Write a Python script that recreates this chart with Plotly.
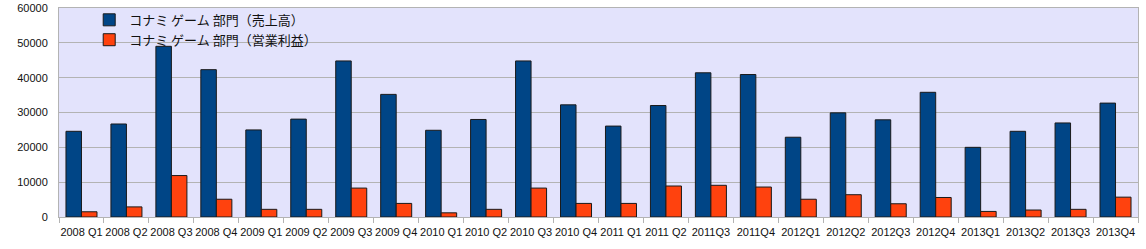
import plotly.graph_objects as go

categories = ["2008 Q1", "2008 Q2", "2008 Q3", "2008 Q4",
              "2009 Q1", "2009 Q2", "2009 Q3", "2009 Q4",
              "2010 Q1", "2010 Q2", "2010 Q3", "2010 Q4",
              "2011 Q1", "2011 Q2", "2011Q3", "2011Q4",
              "2012Q1", "2012Q2", "2012Q3", "2012Q4",
              "2013Q1", "2013Q2", "2013Q3", "2013Q4"]

sales = [24600, 26700, 49000, 42300, 25000, 28100, 44800, 35200,
         24900, 28000, 44800, 32200, 26100, 32000, 41400, 40900,
         22900, 29900, 27900, 35800, 20000, 24600, 27000, 32700]

profit = [1500, 2900, 11900, 5100, 2200, 2200, 8300, 3900,
          1200, 2200, 8300, 3900, 3900, 8900, 9100, 8600,
          5100, 6400, 3800, 5600, 1600, 2000, 2200, 5700]

name_sales = "コナミ ゲーム 部門（売上高）"
name_profit = "コナミ ゲーム 部門（営業利益）"

y_ticks = [0, 10000, 20000, 30000, 40000, 50000, 60000]

fig = go.Figure()
fig.add_trace(go.Bar(x=categories, y=sales, name=name_sales,
                     marker=dict(color="#004586", line=dict(color="#1a1a1a", width=1))))
fig.add_trace(go.Bar(x=categories, y=profit, name=name_profit,
                     marker=dict(color="#ff420e", line=dict(color="#1a1a1a", width=1))))

fig.update_layout(
    width=1146, height=249,
    margin=dict(l=59, r=8, t=8, b=32, autoexpand=False),
    paper_bgcolor="white",
    plot_bgcolor="#e3e3fc",
    barmode="group",
    bargap=0.31,
    bargroupgap=0,
    font=dict(family="Liberation Sans, Arial, sans-serif", size=11, color="#222222"),
    legend=dict(
        x=0.028, y=1.015, xanchor="left", yanchor="top",
        bgcolor="rgba(0,0,0,0)",
        font=dict(family="Noto Sans CJK JP", size=13, color="#111111"),
        tracegroupgap=0, itemwidth=30,
    ),
    showlegend=True,
)

fig.update_xaxes(
    type="category",
    tickson="boundaries",
    tickangle=0,
    automargin=False,
    ticks="outside", ticklen=5, tickcolor="#b3b3b3",
    ticklabelstandoff=5,
    showgrid=False,
    showline=True, linecolor="#b3b3b3", linewidth=1, mirror=True,
    tickfont=dict(size=11, color="#111111"),
)
fig.update_yaxes(
    range=[0, 60000],
    automargin=False,
    tickvals=y_ticks,
    ticktext=[str(v) for v in y_ticks],
    showgrid=True, gridcolor="#b3b3b3", gridwidth=1,
    showline=True, linecolor="#b3b3b3", linewidth=1, mirror=True,
    zeroline=False,
    ticks="", ticklabelstandoff=8,
    tickfont=dict(size=11, color="#111111"),
)

fig.write_html("out.html")
